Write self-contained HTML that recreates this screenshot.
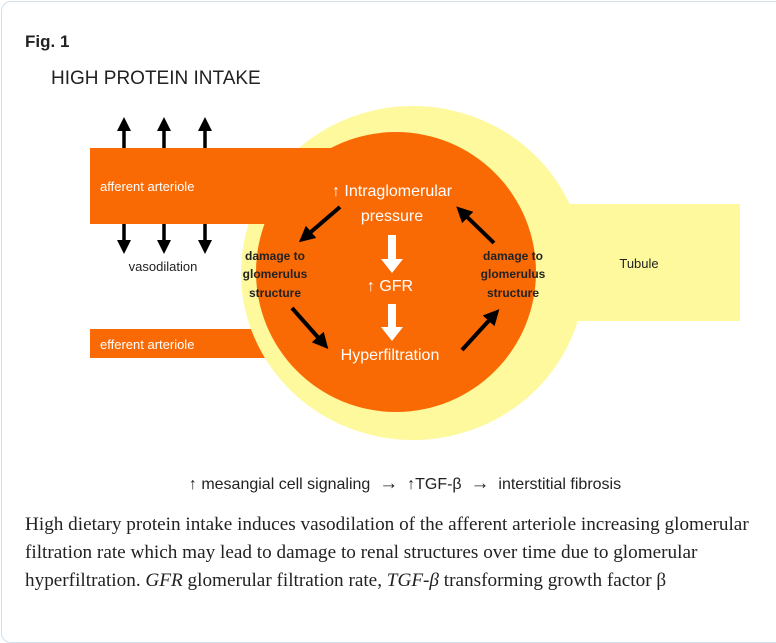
<!DOCTYPE html>
<html><head><meta charset="utf-8"><style>
body{margin:0;background:#fff;width:776px;height:604px;overflow:hidden;position:relative;font-family:"Liberation Sans",sans-serif}
.card{position:absolute;left:1px;top:1px;width:800px;height:640px;border:1px solid #cfe0ef;border-radius:10px}
.t{position:absolute;white-space:nowrap}
</style></head><body>
<div class="card"></div>
<div class="t" style="left:25px;top:32px;font-size:17px;font-weight:bold;color:#222">Fig. 1</div>
<svg width="776" height="604" style="position:absolute;left:0;top:0" font-family="Liberation Sans, sans-serif">
<defs>
<marker id="ah" markerWidth="4" markerHeight="4" refX="2" refY="2" orient="auto" markerUnits="strokeWidth"><path d="M0,0 L4,2 L0,4 z" fill="#000"/></marker>
</defs>
<text x="51" y="84" font-size="19" fill="#222">HIGH PROTEIN INTAKE</text>
<rect x="90" y="329" width="210" height="29" fill="#f96a05"/>
<ellipse cx="413" cy="273" rx="172" ry="167" fill="#fdf99c"/>
<rect x="560" y="204" width="180" height="117" fill="#fdf99c"/>
<rect x="90" y="148" width="260" height="76" fill="#f96a05"/>
<ellipse cx="396" cy="272" rx="140" ry="140" fill="#f96a05"/>
<g stroke="#000" stroke-width="3.5">
<line x1="124" y1="148" x2="124" y2="124" marker-end="url(#ah)"/>
<line x1="164" y1="148" x2="164" y2="124" marker-end="url(#ah)"/>
<line x1="205" y1="148" x2="205" y2="124" marker-end="url(#ah)"/>
<line x1="124" y1="224" x2="124" y2="247" marker-end="url(#ah)"/>
<line x1="164" y1="224" x2="164" y2="247" marker-end="url(#ah)"/>
<line x1="205" y1="224" x2="205" y2="247" marker-end="url(#ah)"/>
</g>
<g stroke="#000" stroke-width="4">
<line x1="340" y1="207" x2="305" y2="237" marker-end="url(#ah)"/>
<line x1="292" y1="308" x2="323" y2="343" marker-end="url(#ah)"/>
<line x1="462" y1="350" x2="494" y2="315" marker-end="url(#ah)"/>
<line x1="494" y1="243" x2="462" y2="212" marker-end="url(#ah)"/>
</g>
<path d="M388,235 h8 v24 h7 l-11,14 l-11,-14 h7z" fill="#fff"/>
<path d="M388,304 h8 v23 h7 l-11,14 l-11,-14 h7z" fill="#fff"/>
<g fill="#fff">
<text x="100" y="191" font-size="13">afferent arteriole</text>
<text x="100" y="349" font-size="13">efferent arteriole</text>
<text x="392" y="196" font-size="16" text-anchor="middle">↑ Intraglomerular</text>
<text x="392" y="221" font-size="16" text-anchor="middle">pressure</text>
<text x="390" y="291" font-size="16" text-anchor="middle">↑ GFR</text>
<text x="390" y="360" font-size="16" text-anchor="middle">Hyperfiltration</text>
</g>
<text x="163" y="271" font-size="13" fill="#222" text-anchor="middle">vasodilation</text>
<text x="639" y="268" font-size="13" fill="#222" text-anchor="middle">Tubule</text>
<g font-size="12" font-weight="bold" fill="#222" text-anchor="middle">
<text x="275" y="260">damage to</text><text x="275" y="278">glomerulus</text><text x="275" y="297">structure</text>
<text x="513" y="260">damage to</text><text x="513" y="278">glomerulus</text><text x="513" y="297">structure</text>
</g>
<text x="405" y="489" font-size="16" fill="#222" text-anchor="middle" xml:space="preserve">↑ mesangial cell signaling  <tspan font-size="19">→</tspan>  ↑TGF-β  <tspan font-size="19">→</tspan>  interstitial fibrosis</text>
</svg>
<div class="t" style="left:25px;top:511px;font-family:'Liberation Serif',serif;font-size:19.2px;line-height:28px;color:#222">High dietary protein intake induces vasodilation of the afferent arteriole increasing glomerular<br>filtration rate which may lead to damage to renal structures over time due to glomerular<br>hyperfiltration. <i>GFR</i> glomerular filtration rate, <i>TGF-β</i> transforming growth factor β</div>
</body></html>
